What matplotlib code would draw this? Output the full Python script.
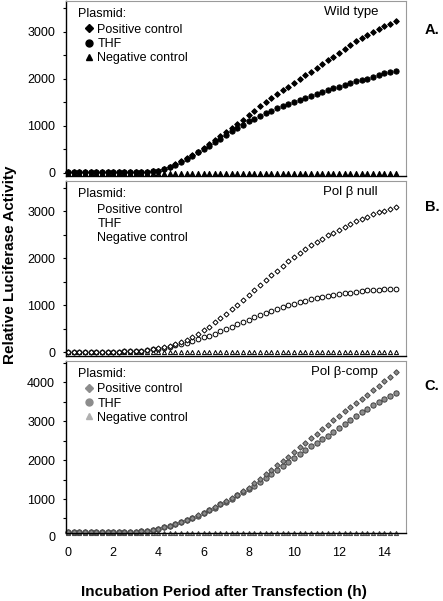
import numpy as np
import matplotlib.pyplot as plt
from matplotlib.lines import Line2D

plt.rcParams["font.family"] = ["Liberation Sans", "DejaVu Sans"]

# sampling times (h), every 15 min from 0 to 14.5 h
hours = np.arange(0, 14.75, 0.25)

# Panel A - wild type
wt_positive = [10, 10, 10, 10, 10, 10, 10, 10,
               10, 10, 10, 10, 15, 15, 20, 30,
               40, 70, 120, 180, 240, 310, 380, 450,
               530, 610, 690, 770, 860, 950, 1040, 1130,
               1230, 1320, 1410, 1500, 1580, 1670, 1750, 1830,
               1910, 1990, 2070, 2150, 2230, 2310, 2390, 2470,
               2550, 2640, 2720, 2790, 2860, 2930, 2990, 3050,
               3110, 3170, 3220]
wt_thf = [10, 10, 10, 10, 10, 10, 10, 10,
          10, 10, 10, 10, 15, 15, 20, 30,
          40, 70, 120, 170, 230, 290, 360, 430,
          500, 570, 650, 720, 800, 880, 950, 1020,
          1090, 1150, 1210, 1270, 1320, 1370, 1420, 1470,
          1510, 1550, 1590, 1630, 1670, 1710, 1750, 1790,
          1830, 1870, 1900, 1940, 1970, 2000, 2040, 2080,
          2110, 2140, 2170]
wt_negative = [0, 0, 0, 0, 0, 0, 0, 0, 0, 0, 0, 0, 0, 0, 0, 0,
               0, 0, 0, 0, 0, 0, 0, 0, 0, 0, 0, 0, 0, 0, 0, 0,
               0, 0, 0, 0, 0, 0, 0, 0, 0, 0, 0, 0, 0, 0, 0, 0,
               0, 0, 0, 0, 0, 0, 0, 0, 0, 0, 0]

# Panel B - Pol beta null
null_positive = [10, 10, 10, 10, 10, 10, 10, 10,
                 10, 10, 15, 15, 20, 30, 40, 55,
                 80, 100, 130, 170, 210, 260, 320, 380,
                 460, 540, 630, 720, 810, 910, 1010, 1110,
                 1210, 1320, 1420, 1530, 1630, 1730, 1830, 1930,
                 2020, 2110, 2190, 2270, 2340, 2410, 2480, 2540,
                 2600, 2660, 2720, 2780, 2830, 2880, 2930, 2970,
                 3010, 3050, 3090]
null_thf = [10, 10, 10, 10, 10, 10, 10, 10,
            10, 10, 15, 15, 20, 30, 40, 55,
            70, 90, 110, 140, 170, 200, 230, 270,
            310, 350, 390, 440, 490, 540, 590, 640,
            690, 740, 790, 830, 870, 920, 960, 990,
            1030, 1060, 1090, 1120, 1140, 1170, 1190, 1210,
            1230, 1250, 1260, 1280, 1290, 1310, 1320, 1330,
            1335, 1340, 1340]
null_negative = [0, 0, 0, 0, 0, 0, 0, 0, 0, 0, 0, 0, 0, 0, 0, 0,
                 0, 0, 0, 0, 0, 0, 0, 0, 0, 0, 0, 0, 0, 0, 0, 0,
                 0, 0, 0, 0, 0, 0, 0, 0, 0, 0, 0, 0, 0, 0, 0, 0,
                 0, 0, 0, 0, 0, 0, 0, 0, 0, 0, 0]

# Panel C - Pol beta complemented
comp_positive = [150, 150, 150, 150, 150, 150, 150, 150,
                 150, 150, 155, 160, 165, 175, 190, 210,
                 240, 270, 310, 350, 410, 460, 520, 580,
                 650, 720, 790, 870, 950, 1030, 1110, 1200,
                 1290, 1400, 1510, 1630, 1740, 1860, 1970, 2090,
                 2210, 2330, 2440, 2560, 2680, 2800, 2910, 3030,
                 3140, 3250, 3360, 3460, 3570, 3680, 3790, 3900,
                 4020, 4140, 4250]
comp_thf = [150, 150, 150, 150, 150, 150, 150, 150,
            150, 150, 155, 160, 165, 175, 190, 210,
            240, 270, 300, 350, 400, 450, 510, 570,
            640, 710, 780, 860, 930, 1010, 1090, 1170,
            1260, 1340, 1440, 1530, 1630, 1740, 1840, 1950,
            2050, 2150, 2250, 2350, 2440, 2530, 2620, 2720,
            2820, 2920, 3020, 3120, 3220, 3320, 3400, 3480,
            3560, 3640, 3720]
comp_negative = [140, 140, 140, 140, 140, 140, 140, 140, 140, 140, 140, 140,
                 140, 140, 140, 140, 140, 140, 140, 140, 140, 140, 140, 140,
                 140, 140, 140, 140, 140, 140, 140, 140, 140, 140, 140, 140,
                 140, 140, 140, 140, 140, 140, 140, 140, 140, 140, 140, 140,
                 140, 140, 140, 140, 140, 140, 140, 140, 140, 140, 140]

legend_labels = ['Positive control', 'THF', 'Negative control']
panel_titles = ['Wild type', 'Pol \u03b2 null', 'Pol \u03b2-comp']
panel_letters = ['A.', 'B.', 'C.']

# marker styles per panel: (marker, size, face, edge)
styles = [
    [('D', 2.9, 'black', 'black'), ('o', 3.8, 'black', 'black'), ('^', 3.2, 'black', 'black')],
    [('D', 2.6, 'white', 'black'), ('o', 3.4, 'white', 'black'), ('^', 3.0, 'white', 'black')],
    [('D', 2.8, '#8c8c8c', '#4a4a4a'), ('o', 3.8, '#8c8c8c', '#404040'), ('^', 3.0, '#b0b0b0', '#404040')],
]
panel_data = [
    (wt_positive, wt_thf, wt_negative),
    (null_positive, null_thf, null_negative),
    (comp_positive, comp_thf, comp_negative),
]
ylims = [(-70, 3650), (-85, 3640), (128, 4540)]
ytick_sets = [[0, 1000, 2000, 3000], [0, 1000, 2000, 3000], [1000, 2000, 3000, 4000]]

W, H = 443, 601
rects = [(65.5, 1, 176), (65.5, 181, 356), (65.5, 361, 533)]
right = 406

fig = plt.figure(figsize=(W / 100, H / 100), dpi=100)

for i, (x0, top, bot) in enumerate(rects):
    ax = fig.add_axes([x0 / W, 1 - bot / H, (right - x0) / W, (bot - top) / H])
    for series, (m, ms, fc, ec) in zip(panel_data[i][::-1], styles[i][::-1]):
        ax.plot(hours, series, linestyle='none', marker=m, markersize=ms,
                markerfacecolor=fc, markeredgecolor=ec, markeredgewidth=0.7,
                clip_on=False)

    ax.set_xlim(-0.11, 14.96)
    ax.set_ylim(*ylims[i])
    ax.set_yticks(ytick_sets[i])
    ax.set_yticks(np.arange(500, ylims[i][1], 1000), minor=True)
    ax.tick_params(axis='y', which='both', direction='out', length=2.5, width=0.8,
                   labelsize=9, pad=5)
    if i == 2:
        ax.set_xticks(np.arange(0, 15, 2))
        ax.tick_params(axis='x', length=0, labelsize=9, pad=10)
        # the zero level sits just below the lower axis limit in this panel
        ax.text(-0.03, 0, '0', transform=ax.get_yaxis_transform(),
                ha='right', va='center', fontsize=9)
    else:
        ax.set_xticks([])

    for side in ['left', 'bottom']:
        ax.spines[side].set_color('black')
        ax.spines[side].set_linewidth(1.0)
    for side in ['top', 'right']:
        ax.spines[side].set_color('#9a9a9a')
        ax.spines[side].set_linewidth(0.8)

    ax.text(0.918, 0.937, panel_titles[i], transform=ax.transAxes,
            ha='right', va='center', fontsize=9.5)
    ax.text(0.037, 0.925, 'Plasmid:', transform=ax.transAxes,
            ha='left', va='center', fontsize=9)

    handles = []
    for (m, ms, fc, ec) in styles[i]:
        if i == 1:
            handles.append(Line2D([], [], linestyle='none', marker=m, markersize=ms,
                                  markerfacecolor='none', markeredgecolor='none'))
        else:
            handles.append(Line2D([], [], linestyle='none', marker=m, markersize=ms + 1.2,
                                  markerfacecolor=fc, markeredgecolor=fc))
    ax.legend(handles, legend_labels, loc='upper left', bbox_to_anchor=(0.055, 0.87),
              frameon=False, fontsize=9, handlelength=0.7, handletextpad=0.35,
              labelspacing=0.18, borderpad=0, borderaxespad=0)

    fig.text(0.975, [0.950, 0.656, 0.358][i], panel_letters[i],
             ha='center', va='center', fontsize=10.5, fontweight='bold')

fig.text(0.506, 0.015, 'Incubation Period after Transfection (h)',
         ha='center', va='center', fontsize=11, fontweight='bold')
fig.text(0.023, 0.559, 'Relative Luciferase Activity', rotation=90,
         ha='center', va='center', fontsize=11, fontweight='bold')

plt.savefig('out.png', dpi=100)
